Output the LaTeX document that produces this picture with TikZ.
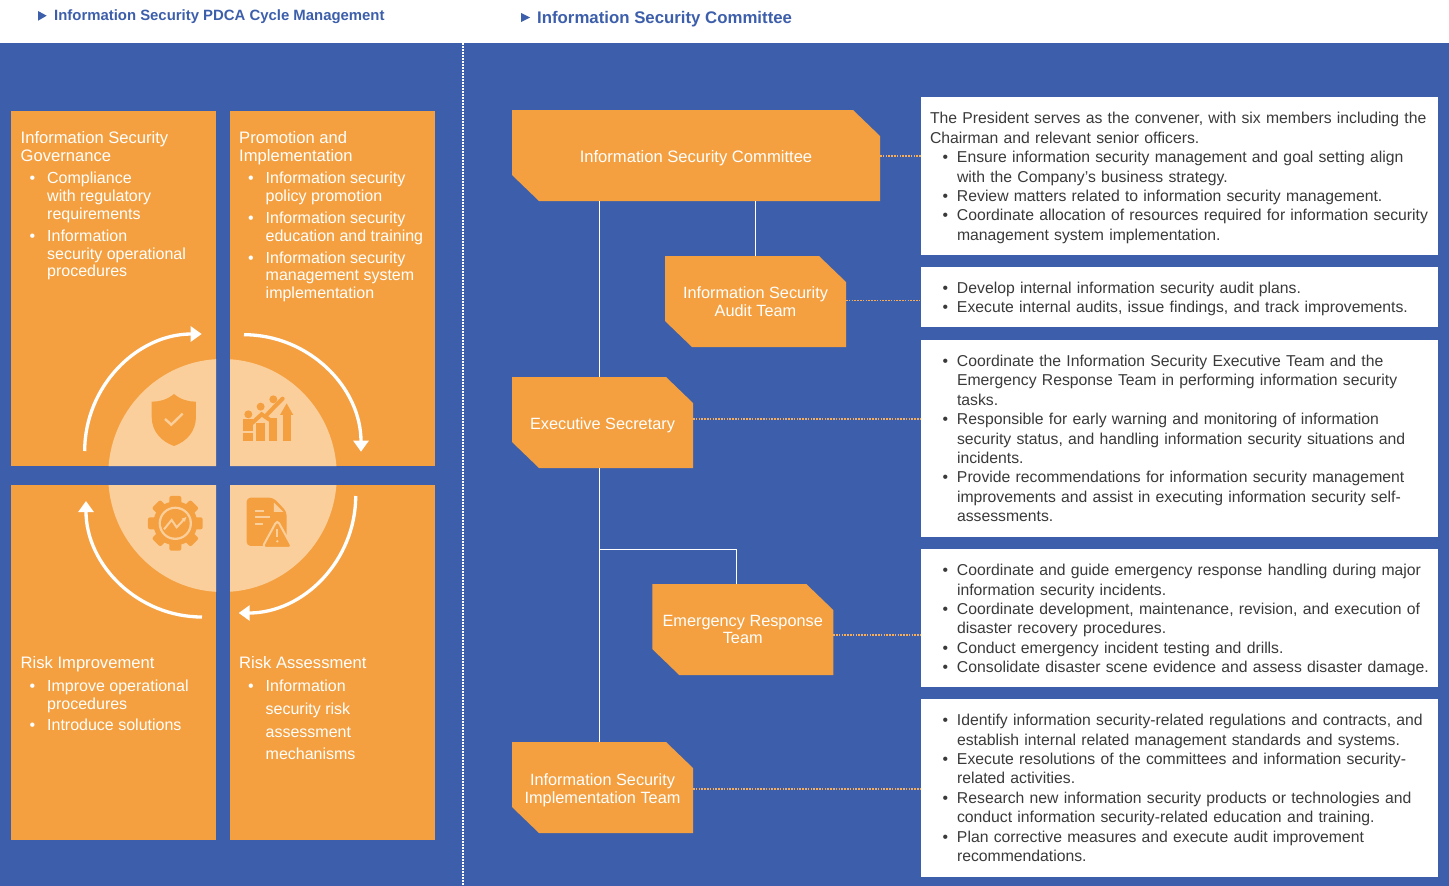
\documentclass[tikz,border=0pt]{standalone}
\usepackage{fontspec}
\setmainfont{Liberation Sans}
\usetikzlibrary{arrows.meta}
\definecolor{bandblue}{HTML}{3D5FAB}
\definecolor{panelorange}{HTML}{F5A040}
\definecolor{paleorange}{HTML}{FBCF9C}
\definecolor{bodygrey}{HTML}{3A3A3A}
\newcommand{\blit}[1]{\makebox[0pt][l]{\hspace{12.5pt}\textbullet}\hspace*{27pt}\mbox{#1}}
\newcommand{\blcont}[1]{\hspace*{27pt}\mbox{#1}}
\newcommand{\plit}[1]{\makebox[0pt][l]{\hspace{9pt}\textbullet}\hspace*{26.5pt}\mbox{#1}}
\newcommand{\plcont}[1]{\hspace*{26.5pt}\mbox{#1}}
\newcommand{\phead}[1]{\mbox{\fontsize{16.6}{17.8}\selectfont #1}}
\newcommand{\orgstrut}{\rule{0pt}{17pt}}
\newcommand{\infostrut}{\rule{0pt}{15.5pt}}

\begin{document}
\begin{tikzpicture}[x=1pt,y=-1pt,
    panel/.style={fill=panelorange},
    paneltext/.style={anchor=north west,inner sep=0pt,text=white,align=left,font=\fontsize{16}{17.8}\selectfont},
    orgbox/.style={rectangle,text=white,inner sep=0pt,outer sep=0pt,minimum height=91pt,minimum width=181pt,
      align=center,font=\fontsize{16.3}{17.8}\selectfont,
      path picture={\fill[panelorange]
        ([yshift=26pt]path picture bounding box.south west)
        -- (path picture bounding box.north west)
        -- ([xshift=-27pt]path picture bounding box.north east)
        -- ([yshift=-26pt]path picture bounding box.north east)
        -- (path picture bounding box.south east)
        -- ([xshift=27pt]path picture bounding box.south west)
        -- cycle;}},
    infobox/.style={anchor=north west,fill=white,text=bodygrey,inner xsep=9pt,inner ysep=0pt,outer sep=0pt,
      text width=499pt,align=left,font=\fontsize{15.75}{19.4}\selectfont},
    orgline/.style={draw=white,line width=1pt},
    dotline/.style={draw=panelorange!85!white,line width=1.6pt,dash pattern=on 1.5pt off 1.3pt},
    cyclearrow/.style={draw=white,line width=3.3pt,-{Triangle[width=15pt,length=11pt]}},
    headtext/.style={anchor=west,inner sep=0pt,text=bandblue,font=\bfseries\fontsize{14.9}{16}\selectfont}]
  \useasboundingbox (0,0) rectangle (1449,886);
  \fill[white] (0,0) rectangle (1449,43);
  \fill[bandblue] (0,43) rectangle (1449,886);
  \draw[white,line width=1.4pt,dash pattern=on 1.5pt off 1.5pt] (463,43) -- (463,886);

  % headings
  \fill[bandblue] (38,11) -- (46.7,15.7) -- (38,20.7) -- cycle;
  \fill[bandblue] (521,13) -- (530,17.5) -- (521,22) -- cycle;
  \node[headtext] (pdcahead) at (54,16.5) {Information Security PDCA Cycle Management};
  \node[headtext,font=\bfseries\fontsize{16.8}{18}\selectfont] (commhead) at (537,19) {Information Security Committee};

  % PDCA panels
  \fill[panel] (11,111) rectangle (216,466);
  \fill[panel] (230,111) rectangle (435,466);
  \fill[panel] (11,485) rectangle (216,840);
  \fill[panel] (230,485) rectangle (435,840);
  \begin{scope}
    \clip (11,111) rectangle (216,466) (230,111) rectangle (435,466)
      (11,485) rectangle (216,840) (230,485) rectangle (435,840);
    \fill[paleorange] (222.5,475.5) ellipse (114.3 and 116.5);
  \end{scope}
  \draw[cyclearrow] (84.7,451) arc (180:270:117);
  \draw[cyclearrow] (244,334.7) arc (270:360:117);
  \draw[cyclearrow] (355.7,496) arc (0:90:117);
  \draw[cyclearrow] (202,617) arc (90:180:116);

  \node[paneltext] (govtext) at (20.5,131) {\phead{Information Security}\\\phead{Governance}\\[5pt]
    \plit{Compliance}\\\plcont{with regulatory}\\\plcont{requirements}\\[4pt]
    \plit{Information}\\\plcont{security operational}\\\plcont{procedures}};
  \node[paneltext] (promtext) at (239,131) {\phead{Promotion and}\\\phead{Implementation}\\[5pt]
    \plit{Information security}\\\plcont{policy promotion}\\[4pt]
    \plit{Information security}\\\plcont{education and training}\\[4pt]
    \plit{Information security}\\\plcont{management system}\\\plcont{implementation}};
  \node[paneltext] (improvetext) at (20.5,656.5) {\phead{Risk Improvement}\\[5pt]
    \plit{Improve operational}\\\plcont{procedures}\\[3.5pt]
    \plit{Introduce solutions}};
  \node[paneltext] (assesstext) at (239,656.5) {\phead{Risk Assessment}\\[5pt]
    \plit{Information}\\[5pt]\plcont{security risk}\\[5pt]\plcont{assessment}\\[5pt]\plcont{mechanisms}};

  % icons, in the units of a crop of the cycle
  \begin{scope}[shift={(70,320)},x=0.3333pt,y=-0.3333pt]
    % shield
    \fill[panelorange] (312,222) .. controls (290,240) and (268,245) .. (245,245) -- (245,290)
      .. controls (245,335) and (275,365) .. (312,378) .. controls (349,365) and (378,335) .. (378,290)
      -- (378,245) .. controls (356,245) and (334,240) .. (312,222) -- cycle;
    \draw[paleorange,line width=2.4pt] (285,297) -- (304,314) -- (338,281);
    % growth
    \fill[panelorange] (520,340) rectangle (548,362);
    \fill[panelorange] (520,297) rectangle (548,332);
    \fill[panelorange] (558,308) rectangle (585,362);
    \fill[panelorange] (596,295) rectangle (622,362);
    \fill[panelorange] (638,285) rectangle (662,362);
    \fill[panelorange] (630,285) -- (650,250) -- (670,285) -- cycle;
    \fill[panelorange] (535,283) circle (12);
    \fill[panelorange] (572,260) circle (12);
    \fill[panelorange] (610,238) circle (12);
    \draw[panelorange,line width=4pt,line cap=round] (540,315) -- (575,283) -- (600,300);
    \draw[panelorange,line width=4pt,line cap=round] (590,285) -- (612,262) -- (638,236);
    % gear
    \fill[panelorange] (316,610) circle (66);
    \foreach \a in {0,45,...,315}
      \fill[panelorange,rotate around={\a:(316,610)},rounded corners=2pt] (298,528) rectangle (334,560);
    \fill[paleorange] (316,610) circle (50);
    \fill[panelorange] (316,610) circle (43);
    \draw[paleorange,line width=2pt,-{Latex[length=5pt,width=5pt]}] (282,628) -- (305,600) -- (320,622) -- (350,590);
    % document
    \fill[panelorange,rounded corners=4pt] (530,533) -- (610,533) -- (650,575) -- (650,678) -- (530,678) -- cycle;
    \fill[paleorange] (612,548) -- (640,576) -- (612,576) -- cycle;
    \draw[paleorange,line width=2pt] (555,572) -- (582,572) (555,592) -- (600,592) (555,612) -- (578,612);
    \fill[panelorange,draw=paleorange,line width=2pt,rounded corners=4pt] (622,600) -- (576,684) -- (668,684) -- cycle;
    \draw[paleorange,line width=2pt] (622,628) -- (622,650);
    \fill[paleorange] (622,664) circle (4);
  \end{scope}

  % committee boxes
  \node[orgbox,minimum width=368pt,font=\fontsize{16.6}{17.8}\selectfont] (iscbox) at (696,155.5) {\orgstrut Information Security Committee};
  \node[orgbox] (auditbox) at (755.5,301.5) {Information Security\\Audit Team};
  \node[orgbox] (execbox) at (602.5,422.5) {\orgstrut Executive Secretary};
  \node[orgbox] (emergbox) at (742.75,629.5) {Emergency Response\\Team};
  \node[orgbox] (implbox) at (602.5,787.5) {\orgstrut Information Security\\Implementation Team};

  \node[infobox,minimum height=158pt] (isctext) at (921,97) {\infostrut The President serves as the convener, with six members including the\\
    Chairman and relevant senior officers.\\
    \blit{Ensure information security management and goal setting align}\\
    \blcont{with the Company's business strategy.}\\
    \blit{Review matters related to information security management.}\\
    \blit{Coordinate allocation of resources required for information security}\\
    \blcont{management system implementation.}};
  \node[infobox,minimum height=60pt] (audittext) at (921,267) {\infostrut\blit{Develop internal information security audit plans.}\\
    \blit{Execute internal audits, issue findings, and track improvements.}};
  \node[infobox,minimum height=197pt] (exectext) at (921,340) {\blit{Coordinate the Information Security Executive Team and the}\\
    \blcont{Emergency Response Team in performing information security}\\
    \blcont{tasks.}\\
    \blit{Responsible for early warning and monitoring of information}\\
    \blcont{security status, and handling information security situations and}\\
    \blcont{incidents.}\\
    \blit{Provide recommendations for information security management}\\
    \blcont{improvements and assist in executing information security self-}\\
    \blcont{assessments.}};
  \node[infobox,minimum height=138pt] (emergtext) at (921,549) {\infostrut\blit{Coordinate and guide emergency response handling during major}\\
    \blcont{information security incidents.}\\
    \blit{Coordinate development, maintenance, revision, and execution of}\\
    \blcont{disaster recovery procedures.}\\
    \blit{Conduct emergency incident testing and drills.}\\
    \blit{Consolidate disaster scene evidence and assess disaster damage.}};
  \node[infobox,minimum height=178pt] (impltext) at (921,699) {\blit{Identify information security-related regulations and contracts, and}\\
    \blcont{establish internal related management standards and systems.}\\
    \blit{Execute resolutions of the committees and information security-}\\
    \blcont{related activities.}\\
    \blit{Research new information security products or technologies and}\\
    \blcont{conduct information security-related education and training.}\\
    \blit{Plan corrective measures and execute audit improvement}\\
    \blcont{recommendations.}};

  % connectors
  \coordinate (trunk) at (599.7,549);
  \coordinate (emergdrop) at (736.7,549);
  \draw[orgline] (iscbox.south -| trunk) -- (execbox.north -| trunk);
  \draw[orgline] (execbox.south -| trunk) -- (implbox.north -| trunk);
  \draw[orgline] (iscbox.south -| auditbox.north) -- (auditbox.north);
  \draw[orgline] (trunk) -- (emergdrop) -- (emergbox.north -| emergdrop);
  \draw[dotline] ([yshift=-0.5pt]iscbox.east) -- ([yshift=-0.5pt]iscbox.east -| isctext.west);
  \draw[dotline] ([yshift=1pt]auditbox.east) -- ([yshift=1pt]auditbox.east -| audittext.west);
  \draw[dotline] ([yshift=3.5pt]execbox.east) -- ([yshift=3.5pt]execbox.east -| exectext.west);
  \draw[dotline] ([yshift=-5.5pt]emergbox.east) -- ([yshift=-5.5pt]emergbox.east -| emergtext.west);
  \draw[dotline] ([yshift=-1.5pt]implbox.east) -- ([yshift=-1.5pt]implbox.east -| impltext.west);
\end{tikzpicture}
\end{document}
